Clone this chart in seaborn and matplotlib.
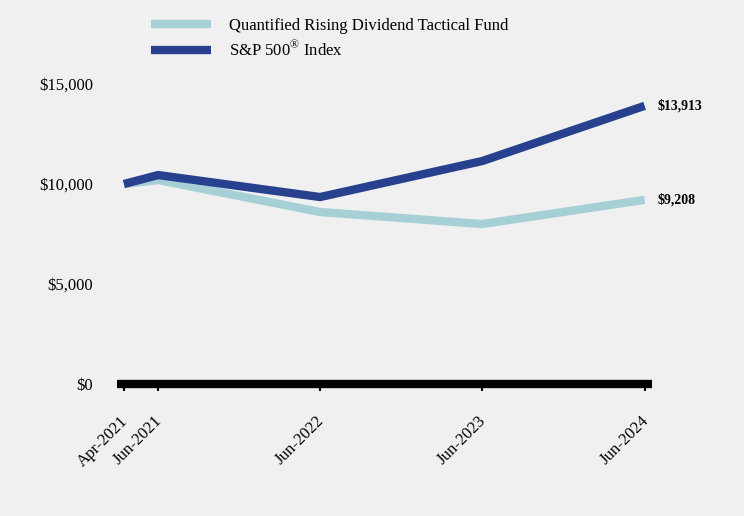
import pandas as pd
import matplotlib
matplotlib.use("Agg")
import matplotlib.pyplot as plt
import matplotlib.transforms as mtransforms
import seaborn as sns

# -------------------------------------
# Data
# -------------------------------------
dates = pd.to_datetime(["2021-04-14", "2021-06-30", "2022-06-30", "2023-06-30", "2024-06-30"])
tick_labels = ["Apr-2021", "Jun-2021", "Jun-2022", "Jun-2023", "Jun-2024"]
fund_values = [10000, 10200, 8600, 8000, 9208]
sp500_values = [10000, 10450, 9350, 11150, 13913]

fund_name = "Quantified Rising Dividend Tactical Fund"
sp500_name = "S&P 500$^{®}$ Index"

df = pd.concat([
    pd.DataFrame({"Date": dates, "Value": fund_values, "Series": fund_name}),
    pd.DataFrame({"Date": dates, "Value": sp500_values, "Series": sp500_name}),
])

# -------------------------------------
# Style
# -------------------------------------
sns.set_style("white")
plt.rcParams["font.family"] = ["Liberation Serif", "DejaVu Serif"]
plt.rcParams["mathtext.fontset"] = "custom"
plt.rcParams["mathtext.rm"] = "Liberation Serif"
plt.rcParams["text.color"] = "black"
plt.rcParams["xtick.color"] = "black"
plt.rcParams["ytick.color"] = "black"

bg = "#f0f0f0"
colors = {fund_name: "#a6d0d6", sp500_name: "#27418f"}

fig = plt.figure(figsize=(7.44, 5.16), dpi=100, facecolor=bg)
ax = fig.add_axes([0.157, 0.256, 0.719, 0.581])
ax.set_facecolor(bg)

sns.lineplot(
    data=df, x="Date", y="Value", hue="Series",
    palette=colors, linewidth=6, ax=ax, legend=False,
    solid_capstyle="butt", solid_joinstyle="miter"
)

# -------------------------------------
# Axes
# -------------------------------------
pad = pd.Timedelta(days=16)
ax.set_xlim(dates[0] - pad, dates[-1] + pad)
ax.set_ylim(0, 15000)
ax.set_yticks([0, 5000, 10000, 15000])
ax.set_yticklabels(["$0", "$5,000", "$10,000", "$15,000"], fontsize=12)
ax.set_xticks(dates)
ax.set_xticklabels(tick_labels, rotation=45, ha="right", rotation_mode="anchor", fontsize=12)
ax.tick_params(axis="y", left=False, length=0, pad=17)
ax.tick_params(axis="x", bottom=True, length=5, width=1.5, direction="out", pad=16)
shift = mtransforms.ScaledTranslation(-3 / 72, 0, fig.dpi_scale_trans)
for lbl in ax.get_xticklabels():
    lbl.set_transform(lbl.get_transform() + shift)
ax.set_xlabel("")
ax.set_ylabel("")

for side in ["top", "right", "left"]:
    ax.spines[side].set_visible(False)
ax.spines["bottom"].set_linewidth(6)
ax.spines["bottom"].set_color("black")
ax.spines["bottom"].set_capstyle("butt")

# -------------------------------------
# End labels
# -------------------------------------
ax.annotate("$9,208", (dates[-1], fund_values[-1]), xytext=(9, 0),
            textcoords="offset points", va="center", fontsize=10, fontweight="bold")
ax.annotate("$13,913", (dates[-1], sp500_values[-1]), xytext=(9, 0),
            textcoords="offset points", va="center", fontsize=10, fontweight="bold")

# -------------------------------------
# Legend
# -------------------------------------
handles = [
    plt.Line2D([], [], color=colors[fund_name], linewidth=6, solid_capstyle="butt"),
    plt.Line2D([], [], color=colors[sp500_name], linewidth=6, solid_capstyle="butt"),
]
fig.legend(handles, [fund_name, sp500_name], loc="upper left",
           bbox_to_anchor=(0.183, 0.995), frameon=False, fontsize=12,
           handlelength=3.6, handletextpad=1.05, labelspacing=0.4)

fig.savefig("out.png", dpi=100, facecolor=bg)
